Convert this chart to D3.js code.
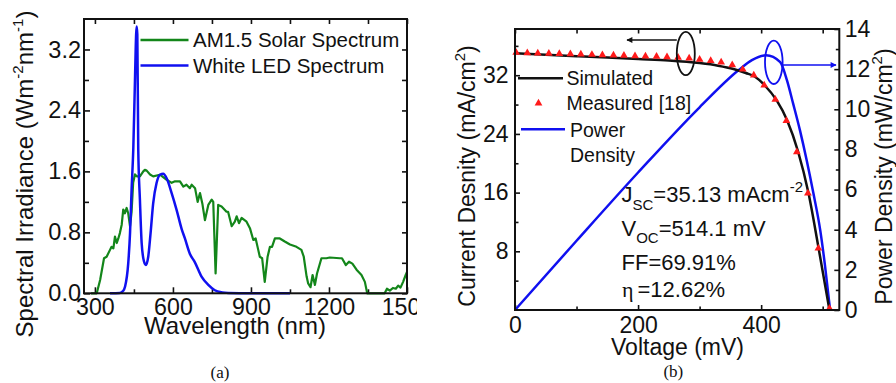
<!DOCTYPE html>
<html><head><meta charset="utf-8">
<script src="https://cdn.jsdelivr.net/npm/d3@7"></script>
<style>
body{margin:0;background:#fff}
svg{display:block;font-family:"Liberation Sans",Arial,sans-serif}
</style>
</head><body>
<svg id="chart" width="896" height="383"></svg>
<script>
// ---------- Panel (a) data ----------
const amWavelength = [285,300,307,320,335,345,358,364,371,377,384,390,396,403,409,415,422,428,435,441,447,454,461,473,486,492,499,512,524,550,576,595,608,627,640,652,665,672,685,695,704,713,723,736,749,755,764,774,787,806,812,826,838,845,854,864,883,896,909,918,928,934,943,953,964,973,981,992,1011,1030,1050,1075,1094,1103,1114,1120,1129,1137,1146,1154,1171,1190,1203,1242,1250,1265,1277,1290,1306,1325,1338,1347,1414,1423,1434,1446,1457,1466,1475,1485,1495,1500];
const amIrradiance = [0,0,0,0.175,0.46,0.48,0.57,0.61,0.59,0.745,0.66,0.72,0.79,0.9,1.1,1.05,1.12,1.05,0.88,1.07,1.45,1.56,1.535,1.535,1.6,1.62,1.61,1.56,1.535,1.556,1.49,1.45,1.47,1.47,1.40,1.425,1.38,1.425,1.38,1.2,1.316,1.18,0.96,1.16,1.23,1.2,0.26,1.16,1.14,1.07,1.07,0.88,0.94,1.01,0.92,0.99,0.94,0.855,0.70,0.72,0.57,0.48,0.46,0.15,0.48,0.61,0.61,0.72,0.72,0.68,0.64,0.61,0.57,0.48,0.22,0.13,0.08,0.24,0.11,0.26,0.46,0.46,0.47,0.46,0.46,0.37,0.415,0.39,0.31,0.24,0.15,0,0,0.06,0.035,0.07,0.06,0.10,0.075,0.15,0.24,0.28];
const ledWavelength = [358,396,408,416,428,435,441,447.5,454,458.5,460.5,463,466.6,473,479.7,488.5,496,505,514,524,537,550,562.7,575.7,595,614,633,646,665,684,710,736,761,790,812,900,1050];
const ledIrradiance = [0,0.005,0.03,0.09,0.39,0.79,1.36,1.89,2.8,3.4,3.5,3.4,1.89,1.23,0.66,0.42,0.372,0.48,0.79,1.18,1.447,1.556,1.57,1.51,1.316,1.096,0.85,0.72,0.52,0.41,0.22,0.11,0.04,0.012,0.005,0,0];
const xTicksA = [300,600,900,1200,1500];
const xMinorA = [450,750,1050,1350];
const yTicksA = [0,0.8,1.6,2.4,3.2];
const yMinorA = [0.4,1.2,2.0,2.8];
const seriesA = ["AM1.5 Solar Spectrum","White LED Spectrum"];

// ---------- Panel (b) data ----------
const simVoltage = [0,50,100,150,200,250,300,330,355,375,390,406,425,442,460,477,493,511];
const simCurrent = [35.0,34.8,34.6,34.4,34.2,34.0,33.65,33.3,32.85,32.3,31.8,30.6,28.6,25.9,21.6,15.9,8.6,0];
const measVoltage = [2,20,37,55,72,90,107,125,142,160,177,195,212,230,247,265,283,300,318,335,353,370,388,405,423,441,458,476,493,511];
const measCurrent = [35.08,35.04,35.0,34.97,34.93,34.89,34.85,34.81,34.77,34.72,34.68,34.63,34.59,34.54,34.48,34.41,34.3,34.13,33.97,33.77,33.4,32.8,32.0,30.64,28.7,25.8,21.55,15.9,8.4,0.2];
const powVoltage = [0,100,200,300,363,385,408,431,442,452,463,474,485,496,504,512];
const powDensity = [0,3.45,6.85,10.1,11.94,12.45,12.69,12.35,11.44,10.28,8.96,7.46,5.8,3.98,2.15,0];
const xTicksB = [0,200,400];
const xMinorB = [100,300,500];
const yTicksBL = [8,16,24,32];
const yMinorBL = [4,12,20,28,36];
const yTicksBR = [0,2,4,6,8,10,12,14];
const yMinorBR = [1,3,5,7,9,11,13];
const seriesB = ["Simulated","Measured [18]","Power","Density"];
const paramsB = ["35.13 mAcm","514.1 mV","FF=69.91%","=12.62%"];

const GREEN = "#13861a", BLUE = "#1010f0", RED = "#ff1a1a";
const SANS = "Liberation Sans, Arial, sans-serif", SERIF = "Liberation Serif, Times New Roman, serif";
const svg = d3.select("#chart");

function styleAxis(g){ g.select(".domain").remove(); g.selectAll(".tick line").attr("stroke","#111").attr("stroke-width",1.6); }
const labelStyle = size => g=>g.selectAll("text").attr("font-size",size).attr("fill","#111").attr("font-family",SANS);

// ===== Panel (a) =====
const defs = svg.append("defs");
defs.append("clipPath").attr("id","clipA").append("rect").attr("x",0).attr("y",0).attr("width",417).attr("height",383);
const pA = svg.append("g").attr("clip-path","url(#clipA)").attr("fill","#111");
const xA = d3.scaleLinear().domain([258,1500]).range([84,407]);
const yA = d3.scaleLinear().domain([0,3.6]).range([293.3,19]);
const [aL,aR] = xA.range(), [aB,aT] = yA.range();

pA.append("g").attr("transform",`translate(0,${aB})`).call(d3.axisBottom(xA).tickValues(xTicksA).tickSize(-6).tickPadding(5).tickFormat(d3.format("d"))).call(styleAxis).call(labelStyle(23.2));
pA.append("g").attr("transform",`translate(0,${aB})`).call(d3.axisBottom(xA).tickValues(xMinorA).tickSize(-4).tickFormat("")).call(styleAxis);
pA.append("g").attr("transform",`translate(0,${aT})`).call(d3.axisTop(xA).tickValues(xTicksA.concat(xMinorA)).tickSize(-5).tickFormat("")).call(styleAxis);
pA.append("g").attr("transform",`translate(${aL},0)`).call(d3.axisLeft(yA).tickValues(yTicksA).tickSize(-6).tickPadding(3).tickFormat(d3.format(".1f"))).call(styleAxis).call(labelStyle(23.5));
pA.append("g").attr("transform",`translate(${aL},0)`).call(d3.axisLeft(yA).tickValues(yMinorA).tickSize(-5).tickFormat("")).call(styleAxis);
pA.append("g").attr("transform",`translate(${aR},0)`).call(d3.axisRight(yA).tickValues(yTicksA.concat(yMinorA)).tickSize(-5).tickFormat("")).call(styleAxis);

const lineA = d3.line().x(d=>xA(d[0])).y(d=>yA(d[1]));
pA.append("path").datum(d3.zip(amWavelength,amIrradiance)).attr("d",lineA).attr("fill","none").attr("stroke",GREEN).attr("stroke-width",2.2).attr("stroke-linejoin","round");
pA.append("path").datum(d3.zip(ledWavelength,ledIrradiance)).attr("d",lineA.curve(d3.curveMonotoneX)).attr("fill","none").attr("stroke",BLUE).attr("stroke-width",2.5);
pA.append("rect").attr("x",aL).attr("y",aT).attr("width",aR-aL).attr("height",aB-aT).attr("fill","none").attr("stroke","#111").attr("stroke-width",2);

// legend (a)
[[GREEN,40,46.7],[BLUE,65.5,72.7]].forEach((l,i)=>{
  pA.append("line").attr("x1",140.5).attr("x2",188.5).attr("y1",l[1]).attr("y2",l[1]).attr("stroke",l[0]).attr("stroke-width",2.5);
  pA.append("text").attr("x",193).attr("y",l[2]).attr("font-size",20.5).text(seriesA[i]);
});
pA.append("text").attr("x",235).attr("y",334).attr("text-anchor","middle").attr("font-size",24).text("Wavelength (nm)");
const tA = pA.append("text").attr("transform","translate(33,174) rotate(-90)").attr("text-anchor","middle").attr("font-size",24);
tA.append("tspan").text("Spectral Irradiance (Wm");
tA.append("tspan").attr("font-size",15).attr("dy",-10).text("-2");
tA.append("tspan").attr("dy",10).text("nm");
tA.append("tspan").attr("font-size",15).attr("dy",-10).text("-1");
tA.append("tspan").attr("dy",10).text(")");
svg.append("text").attr("x",220).attr("y",378).attr("text-anchor","middle").attr("font-size",17).attr("fill","#111").style("font-family",SERIF).text("(a)");

// ===== Panel (b) =====
const pB = svg.append("g").attr("fill","#111");
const xB = d3.scaleLinear().domain([0,527]).range([515,839.3]);
const yBL = d3.scaleLinear().domain([0,38.3]).range([310,29]);
const yBR = d3.scaleLinear().domain([0,14]).range([310,29]);
const [bL,bR] = xB.range(), [bB,bT] = yBL.range();

pB.append("g").attr("transform",`translate(0,${bB})`).call(d3.axisBottom(xB).tickValues(xTicksB).tickSize(-5).tickPadding(6.5).tickFormat(d3.format("d"))).call(styleAxis).call(labelStyle(23));
pB.append("g").attr("transform",`translate(0,${bB})`).call(d3.axisBottom(xB).tickValues(xMinorB).tickSize(-3.5).tickFormat("")).call(styleAxis);
pB.append("g").attr("transform",`translate(0,${bT})`).call(d3.axisTop(xB).tickValues(xTicksB.concat(xMinorB)).tickSize(-4.5).tickFormat("")).call(styleAxis);
pB.append("g").attr("transform",`translate(${bL},0)`).call(d3.axisLeft(yBL).tickValues(yTicksBL).tickSize(-5).tickPadding(6.5).tickFormat(d3.format("d"))).call(styleAxis).call(labelStyle(23));
pB.append("g").attr("transform",`translate(${bL},0)`).call(d3.axisLeft(yBL).tickValues(yMinorBL).tickSize(-3.5).tickFormat("")).call(styleAxis);
pB.append("g").attr("transform",`translate(${bR},0)`).call(d3.axisRight(yBR).tickValues(yTicksBR).tickSize(-5).tickPadding(5.5).tickFormat(d3.format("d"))).call(styleAxis).call(labelStyle(23));
pB.append("g").attr("transform",`translate(${bR},0)`).call(d3.axisRight(yBR).tickValues(yMinorBR).tickSize(-3.5).tickFormat("")).call(styleAxis);

const lineJ = d3.line().x(d=>xB(d[0])).y(d=>yBL(d[1])).curve(d3.curveMonotoneX);
const lineP = d3.line().x(d=>xB(d[0])).y(d=>yBR(d[1])).curve(d3.curveMonotoneX);
pB.append("path").datum(d3.zip(powVoltage,powDensity)).attr("d",lineP).attr("fill","none").attr("stroke",BLUE).attr("stroke-width",2.5);
pB.append("path").datum(d3.zip(simVoltage,simCurrent)).attr("d",lineJ).attr("fill","none").attr("stroke","#111").attr("stroke-width",2.5);
const tri = d3.symbol(d3.symbolTriangle).size(26);
pB.selectAll("path.meas").data(d3.zip(measVoltage,measCurrent)).join("path").attr("class","meas")
  .attr("d",tri).attr("transform",d=>`translate(${xB(d[0])},${yBL(d[1])})`).attr("fill",RED);
pB.append("rect").attr("x",bL).attr("y",bT).attr("width",bR-bL).attr("height",bB-bT).attr("fill","none").attr("stroke","#111").attr("stroke-width",2);

// legend (b)
pB.append("line").attr("x1",518).attr("x2",563).attr("y1",78.3).attr("y2",78.3).attr("stroke","#111").attr("stroke-width",2.5);
pB.append("text").attr("x",566.5).attr("y",85).attr("font-size",19.5).text(seriesB[0]);
pB.append("path").attr("d",tri).attr("transform","translate(538.5,103.3)").attr("fill",RED);
pB.append("text").attr("x",566.5).attr("y",110).attr("font-size",19.5).text(seriesB[1]);
pB.append("line").attr("x1",521).attr("x2",565).attr("y1",129.3).attr("y2",129.3).attr("stroke",BLUE).attr("stroke-width",2.5);
pB.append("text").attr("x",570).attr("y",136.7).attr("font-size",19.5).text(seriesB[2]);
pB.append("text").attr("x",570).attr("y",161.7).attr("font-size",19.5).text(seriesB[3]);

// ellipses and arrows
[["arrK","#111"],["arrB",BLUE]].forEach(a=>{
  defs.append("marker").attr("id",a[0]).attr("viewBox","0 0 10 10").attr("refX",9).attr("refY",5)
    .attr("markerWidth",8).attr("markerHeight",6).attr("markerUnits","userSpaceOnUse").attr("orient","auto")
    .append("path").attr("d","M0,0L10,5L0,10Z").attr("fill",a[1]);
});
pB.append("ellipse").attr("cx",685.8).attr("cy",53.5).attr("rx",9).attr("ry",21.7).attr("fill","none").attr("stroke","#111").attr("stroke-width",1.8);
pB.append("line").attr("x1",676.8).attr("y1",40).attr("x2",627).attr("y2",40).attr("stroke","#111").attr("stroke-width",1.5).attr("marker-end","url(#arrK)");
pB.append("ellipse").attr("cx",773.8).attr("cy",62.3).attr("rx",8.8).attr("ry",21.7).attr("fill","none").attr("stroke",BLUE).attr("stroke-width",1.8);
pB.append("line").attr("x1",782.6).attr("y1",65).attr("x2",836).attr("y2",65).attr("stroke",BLUE).attr("stroke-width",1.5).attr("marker-end","url(#arrB)");

// parameters text
const t1 = pB.append("text").attr("x",621.5).attr("y",201.7).attr("font-size",22);
t1.append("tspan").text("J");
t1.append("tspan").attr("font-size",15).attr("dy",8).text("SC");
t1.append("tspan").attr("dy",-8).text("=" + paramsB[0]);
t1.append("tspan").attr("font-size",15).attr("dy",-10).text("-2");
const t2 = pB.append("text").attr("x",621.5).attr("y",235.5).attr("font-size",22);
t2.append("tspan").text("V");
t2.append("tspan").attr("font-size",15).attr("dy",7).text("OC");
t2.append("tspan").attr("dy",-7).text("=" + paramsB[1]);
pB.append("text").attr("x",621.5).attr("y",269.5).attr("font-size",22).text(paramsB[2]);
const t4 = pB.append("text").attr("x",622).attr("y",297).attr("font-size",22);
t4.append("tspan").style("font-family",SERIF).text("η");
t4.append("tspan").attr("dx",4).text(paramsB[3]);

pB.append("text").attr("x",677.5).attr("y",355).attr("text-anchor","middle").attr("font-size",23).text("Voltage (mV)");
const tL = pB.append("text").attr("transform","translate(475,176) rotate(-90)").attr("text-anchor","middle").attr("font-size",23);
tL.append("tspan").text("Current Desnity (mA/cm");
tL.append("tspan").attr("font-size",15).attr("dy",-10).text("2");
tL.append("tspan").attr("dy",10).text(")");
const tR = pB.append("text").attr("transform","translate(892,176.5) rotate(-90)").attr("text-anchor","middle").attr("font-size",23);
tR.append("tspan").text("Power Density (mW/cm");
tR.append("tspan").attr("font-size",15).attr("dy",-10).text("2");
tR.append("tspan").attr("dy",10).text(")");
svg.append("text").attr("x",673.3).attr("y",376.5).attr("text-anchor","middle").attr("font-size",17).attr("fill","#111").style("font-family",SERIF).text("(b)");
</script>
</body></html>
